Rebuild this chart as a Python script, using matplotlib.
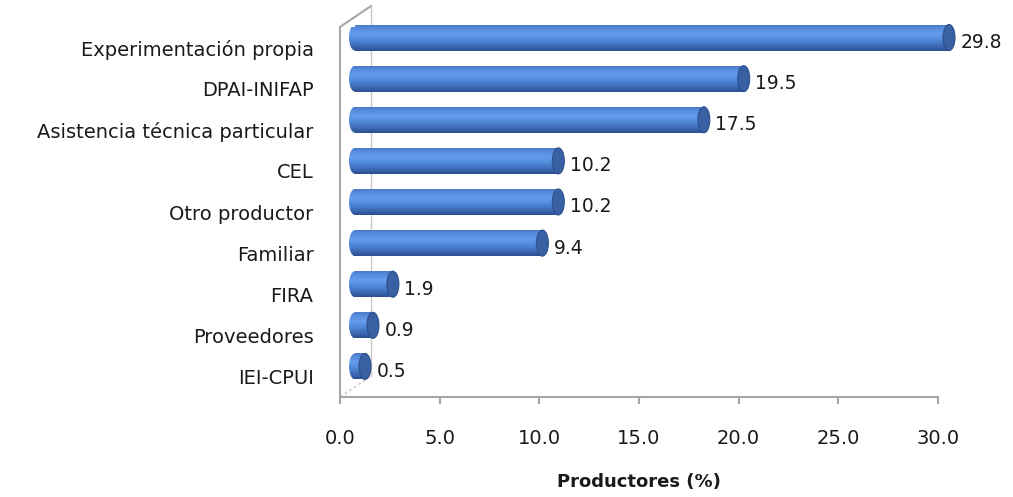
import matplotlib
matplotlib.use('Agg')
import matplotlib.pyplot as plt
import numpy as np
from matplotlib.colors import LinearSegmentedColormap
from matplotlib.patches import Ellipse

categorias = ['Experimentación propia', 'DPAI-INIFAP', 'Asistencia técnica particular',
              'CEL', 'Otro productor', 'Familiar', 'FIRA', 'Proveedores', 'IEI-CPUI']
valores = [29.8, 19.5, 17.5, 10.2, 10.2, 9.4, 1.9, 0.9, 0.5]
ticks = [0, 5, 10, 15, 20, 25, 30]

plt.rcParams['font.family'] = 'DejaVu Sans'

W, H = 1013, 497
fig = plt.figure(figsize=(W / 100, H / 100), dpi=100)
ax = fig.add_axes([340 / W, 100 / H, 598 / W, 370 / H])
n = len(categorias)

# pixel scale of the axes
px = 598 / 30
py = 370 / n

# cylinder shading, top to bottom
cyl = LinearSegmentedColormap.from_list('cyl', [
    (0.0, '#4a78c4'), (0.1, '#5589dc'), (0.35, '#659deb'),
    (0.55, '#538bdc'), (0.8, '#3e6cb9'), (1.0, '#2b4f8e')])
grad = np.linspace(0, 1, 64).reshape(-1, 1)

dx = 15 / px      # depth offset of bars (half the wall depth)
dy = 10 / py
h = 26 / py       # bar thickness
cw = 12 / px      # width of end ellipse

for i, v in enumerate(valores):
    yc = i - dy
    x0, x1 = dx, v + dx
    body = ax.imshow(grad, extent=(x0, x1, yc + h / 2, yc - h / 2), cmap=cyl,
                     aspect='auto', origin='upper', zorder=3, interpolation='bilinear')
    body.set_clip_on(False)
    cap = Ellipse((x0, yc), cw, h, facecolor='none', edgecolor='none', zorder=3)
    ax.add_patch(cap)
    im = ax.imshow(grad, extent=(x0 - cw / 2, x0 + cw / 2, yc + h / 2, yc - h / 2),
                   cmap=cyl, aspect='auto', origin='upper', zorder=3, interpolation='bilinear')
    im.set_clip_path(cap)
    ax.add_patch(Ellipse((x1, yc), cw, h, facecolor='#3960a3', edgecolor='#2c5190',
                         lw=0.8, zorder=4, clip_on=False))
    ax.annotate(f'{v:.1f}', (x1 + cw / 2, yc + 5 / py), xytext=(4, 0),
                textcoords='offset points', va='center', ha='left',
                fontsize=13.5, color='#1a1a1a', zorder=5, annotation_clip=False)

ax.set_xlim(0, 30)
ax.set_ylim(n - 0.5, -0.5)

# back wall of the 3D frame
bx, by = 31 / px, 21 / py
ax.plot([0, bx], [-0.5, -0.5 - by], color='#a6a6a6', lw=1.5, clip_on=False, zorder=1)
ax.plot([bx, bx], [-0.5 - by, n - 0.5 - by], color='#c8c8c8', lw=1, clip_on=False, zorder=1)
ax.plot([0, bx], [n - 0.5, n - 0.5 - by], color='#c8c8c8', lw=1, ls=(0, (2, 2)),
        clip_on=False, zorder=1)

for s in ['top', 'right']:
    ax.spines[s].set_visible(False)
for s in ['left', 'bottom']:
    ax.spines[s].set_color('#a6a6a6')
    ax.spines[s].set_linewidth(1.5)

ax.set_xticks(ticks)
ax.set_xticklabels([f'{t:.1f}' for t in ticks])
ax.set_yticks(range(n))
ax.set_yticklabels(categorias)
ax.tick_params(axis='x', length=5, width=1.5, color='#a6a6a6', pad=18,
               labelsize=14, labelcolor='#1a1a1a')
ax.tick_params(axis='y', length=0, pad=19, labelsize=14, labelcolor='#1a1a1a')
ax.set_xlabel('Productores (%)', fontsize=13, fontweight='bold', labelpad=18,
              color='#1a1a1a')

fig.savefig('out.png', dpi=100)
